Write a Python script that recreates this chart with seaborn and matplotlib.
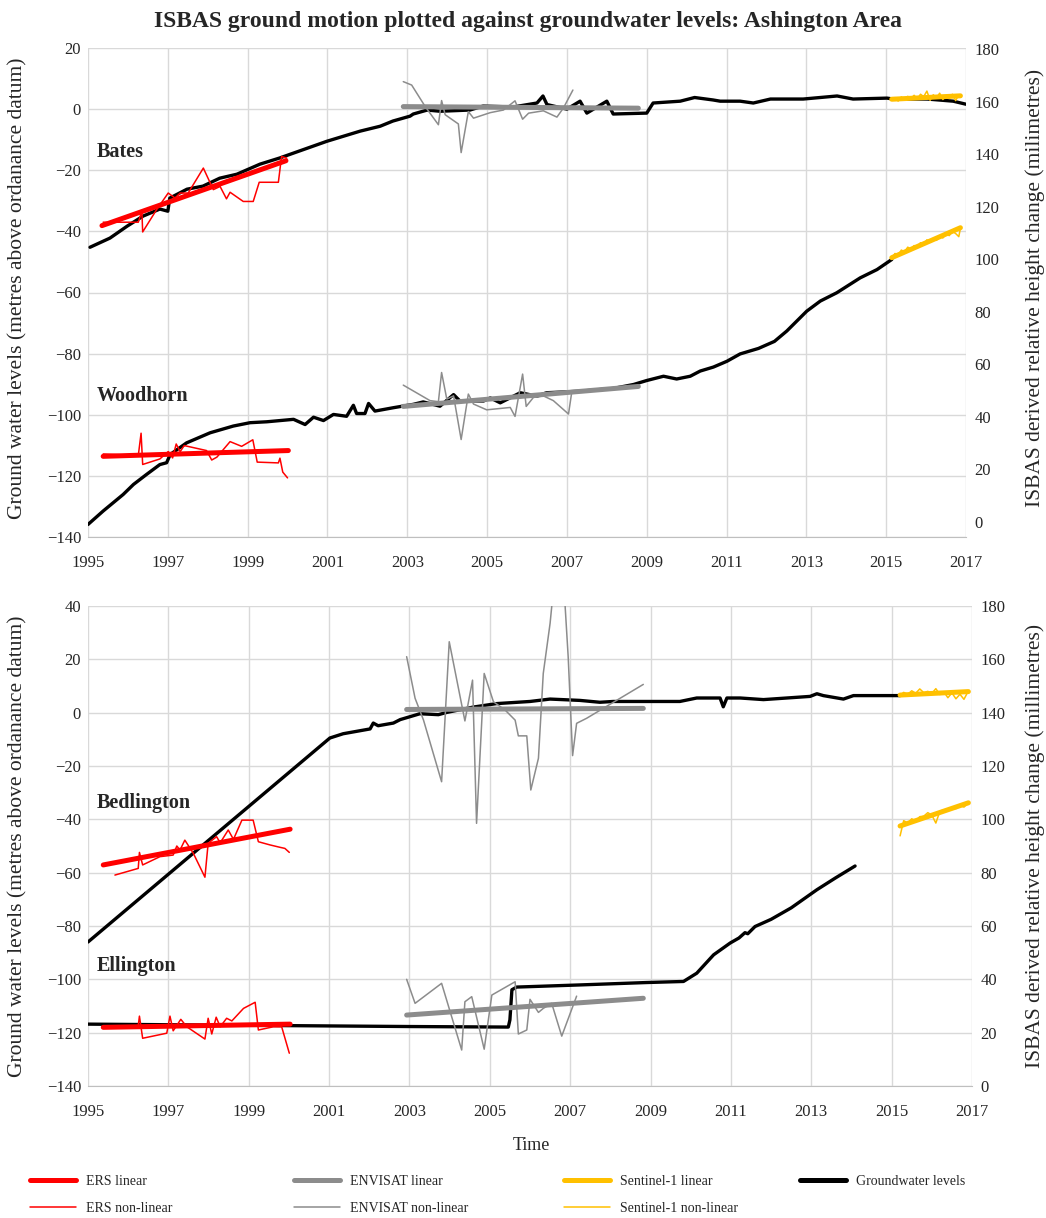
import matplotlib

matplotlib.use("Agg")

import matplotlib.pyplot as plt
from matplotlib.lines import Line2D
import seaborn as sns


OUTPUT_FILE = "out.png"

# ---- Bates (top panel, upper traces) ----
BATES_GW_YEAR = [1995.05, 1995.55, 1995.98, 1996.38, 1996.8, 1997.0, 1997.05, 1997.48, 1997.88,
                 1998.3, 1998.73, 1999.31, 1999.8, 2000.99, 2001.82, 2002.32, 2002.64, 2003.07,
                 2003.15, 2003.5, 2003.82, 2004.57, 2004.9, 2005.65, 2006.25, 2006.4, 2006.5,
                 2007.0, 2007.33, 2007.5, 2008.0, 2008.16, 2009.0, 2009.16, 2009.84, 2010.2,
                 2010.66, 2010.84, 2011.34, 2011.67, 2012.1, 2012.92, 2013.77, 2014.17, 2015.02,
                 2015.18, 2016.03, 2016.68, 2017.0]
BATES_GW_LEVEL = [-45.2, -42.2, -38.3, -35.0, -32.7, -33.4, -29.1, -26.2, -25.2,
                  -22.6, -21.3, -18.0, -16.0, -10.5, -7.2, -5.6, -3.9, -2.3,
                  -1.6, -0.3, -0.7, -0.3, 1.0, 0.7, 2.0, 4.3, 1.5,
                  0.0, 2.6, -1.3, 2.6, -1.6, -1.3, 2.0, 2.6, 3.8,
                  3.0, 2.6, 2.6, 2.0, 3.3, 3.3, 4.3, 3.3, 3.6,
                  3.3, 3.3, 2.6, 1.6]
BATES_ERS_LIN_YEAR = [1995.35, 1999.96]
BATES_ERS_LIN = [112.8, 137.5]
BATES_ERS_YEAR = [1995.38, 1996.26, 1996.35, 1996.37, 1996.72, 1997.01, 1997.18, 1997.31, 1997.51,
                  1997.89, 1998.14, 1998.31, 1998.47, 1998.56, 1998.89, 1999.14, 1999.29, 1999.77,
                  1999.85, 1999.98]
BATES_ERS = [114.1, 114.1, 118.3, 110.4, 118.9, 125.2, 123.3, 125.2, 125.2,
             134.7, 126.5, 127.7, 123.0, 125.5, 122.0, 122.0, 129.3, 129.3,
             139.1, 138.5]
BATES_ENV_LIN_YEAR = [2002.90, 2008.79]
BATES_ENV_LIN = [158.1, 157.5]
BATES_ENV_YEAR = [2002.90, 2003.11, 2003.45, 2003.78, 2003.86, 2003.95, 2004.28, 2004.35, 2004.53,
                  2004.66, 2005.08, 2005.41, 2005.70, 2005.89, 2006.04, 2006.41, 2006.75, 2006.91,
                  2007.15]
BATES_ENV = [167.6, 166.3, 158.1, 151.2, 160.4, 155.0, 151.5, 140.6, 156.2,
             153.7, 155.8, 156.8, 160.3, 153.3, 155.6, 156.5, 154.1, 157.5,
             164.4]
BATES_S1_LIN_YEAR = [2015.14, 2016.86]
BATES_S1_LIN = [160.9, 162.2]
S1_TOP_YEAR = [2015.14, 2015.22, 2015.30, 2015.38, 2015.46, 2015.54, 2015.62, 2015.70, 2015.78,
               2015.86, 2015.94, 2016.02, 2016.10, 2016.18, 2016.26, 2016.34, 2016.42, 2016.50,
               2016.58, 2016.66, 2016.74, 2016.82, 2016.86]
BATES_S1 = [160.6, 161.5, 160.2, 161.8, 160.9, 162.0, 161.2, 162.4, 161.0,
            162.8, 161.9, 164.0, 160.5, 162.6, 161.4, 163.2, 160.8, 162.0,
            161.2, 162.8, 160.4, 162.6, 161.8]

# ---- Woodhorn (top panel, lower traces) ----
WOOD_GW_YEAR = [1995.0, 1995.38, 1995.88, 1996.14, 1996.47, 1996.8, 1996.97, 1997.06, 1997.47,
                1998.06, 1998.64, 1999.06, 1999.48, 2000.15, 2000.44, 2000.65, 2000.90, 2001.15,
                2001.48, 2001.65, 2001.73, 2001.94, 2002.03, 2002.19, 2002.65, 2003.15, 2003.40,
                2003.82, 2004.16, 2004.32, 2004.91, 2005.08, 2005.33, 2005.83, 2006.25, 2006.49,
                2007.33, 2008.16, 2008.67, 2009.00, 2009.42, 2009.75, 2010.09, 2010.34, 2010.67,
                2011.01, 2011.34, 2011.8, 2012.2, 2012.51, 2013.01, 2013.35, 2013.76, 2014.35,
                2014.77, 2015.14]
WOOD_GW_LEVEL = [-135.9, -131.5, -126.1, -122.8, -119.5, -116.3, -115.7, -113.0, -109.2,
                 -105.9, -103.7, -102.6, -102.3, -101.5, -103.2, -100.8, -101.9, -99.9,
                 -100.5, -96.9, -99.6, -99.6, -96.3, -98.8, -97.7, -96.6, -95.8,
                 -97.2, -93.4, -95.5, -95.5, -94.5, -96.1, -92.8, -93.9, -92.8,
                 -92.3, -91.4, -90.1, -88.8, -87.4, -88.3, -87.4, -85.7, -84.4,
                 -82.5, -80.1, -78.3, -76.0, -72.6, -66.1, -62.8, -60.1, -55.2,
                 -52.5, -49.2]
WOOD_ERS_LIN_YEAR = [1995.38, 2000.02]
WOOD_ERS_LIN = [25.0, 27.2]
WOOD_ERS_YEAR = [1995.38, 1996.26, 1996.33, 1996.37, 1996.80, 1997.01, 1997.12, 1997.21, 1997.31,
                 1997.41, 1997.97, 1998.10, 1998.23, 1998.56, 1998.85, 1999.13, 1999.24, 1999.77,
                 1999.81, 1999.88, 2000.0]
WOOD_ERS = [25.9, 25.3, 33.8, 21.9, 24.0, 26.8, 24.4, 29.7, 26.8,
            29.1, 27.2, 23.6, 24.7, 30.6, 28.8, 31.3, 22.8, 22.5,
            24.3, 19.0, 16.8]
WOOD_ENV_LIN_YEAR = [2002.90, 2008.79]
WOOD_ENV_LIN = [44.0, 51.6]
WOOD_ENV_YEAR = [2002.90, 2003.57, 2003.78, 2003.86, 2003.99, 2004.16, 2004.35, 2004.53, 2004.66,
                 2004.99, 2005.58, 2005.70, 2005.89, 2005.98, 2006.16, 2006.41, 2006.66, 2007.04,
                 2007.12]
WOOD_ENV = [52.1, 46.2, 45.8, 56.9, 46.8, 48.0, 31.4, 48.7, 44.9,
            42.7, 43.6, 40.2, 56.3, 44.0, 47.4, 48.0, 46.2, 41.1,
            49.3]
WOOD_S1_LIN_YEAR = [2015.14, 2016.86]
WOOD_S1_LIN = [100.6, 112.0]
WOOD_S1 = [100.4, 102.2, 101.6, 103.5, 102.8, 104.6, 103.9, 105.2, 104.8,
           106.3, 105.5, 107.4, 106.6, 107.9, 107.2, 108.8, 108.1, 109.6,
           109.0, 110.6, 109.8, 108.6, 111.8]

# ---- Bedlington (bottom panel, upper traces) ----
BED_GW_YEAR = [1995.0, 2001.02, 2001.35, 2002.02, 2002.1, 2002.22, 2002.6, 2002.77, 2003.26,
               2003.72, 2003.93, 2004.59, 2005.17, 2006.0, 2006.5, 2007.24, 2007.74, 2008.07,
               2008.9, 2009.73, 2010.15, 2010.73, 2010.81, 2010.9, 2011.23, 2011.81, 2012.39,
               2012.97, 2013.14, 2013.30, 2013.80, 2014.05, 2015.21]
BED_GW_LEVEL = [-86.0, -9.5, -7.9, -6.1, -3.9, -4.9, -3.9, -2.6, -0.4,
                -0.75, 0.1, 2.1, 3.4, 4.2, 5.1, 4.6, 3.9, 4.2,
                4.2, 4.2, 5.5, 5.5, 2.2, 5.5, 5.5, 4.9, 5.5,
                6.1, 7.1, 6.4, 5.1, 6.4, 6.4]
BED_ERS_LIN_YEAR = [1995.38, 2000.03]
BED_ERS_LIN = [82.9, 96.3]
BED_ERS_YEAR = [1995.67, 1996.25, 1996.28, 1996.36, 1996.79, 1997.12, 1997.21, 1997.29, 1997.41,
                1997.62, 1997.91, 1997.99, 1998.20, 1998.29, 1998.49, 1998.62, 1998.83, 1999.11,
                1999.24, 1999.53, 1999.78, 1999.90, 2000.01]
BED_ERS = [79.1, 81.6, 87.6, 82.9, 86.0, 86.6, 90.0, 88.5, 92.2,
           87.3, 78.3, 91.0, 93.5, 91.2, 96.0, 92.5, 99.7, 99.7,
           91.6, 90.4, 89.5, 89.1, 87.6]
BED_ENV_LIN_YEAR = [2002.93, 2008.82]
BED_ENV_LIN = [141.2, 141.6]
BED_ENV_YEAR = [2002.93, 2003.14, 2003.35, 2003.80, 2003.99, 2004.38, 2004.57, 2004.67, 2004.86,
                2005.09, 2005.38, 2005.63, 2005.71, 2005.92, 2006.02, 2006.21, 2006.33, 2006.50,
                2006.62, 2006.72, 2006.87, 2006.95, 2007.06, 2007.16, 2007.41, 2008.82]
BED_ENV = [161.0, 145.4, 137.2, 114.1, 166.6, 136.9, 152.2, 98.5, 154.7,
           144.1, 141.0, 137.2, 131.3, 131.3, 111.0, 122.9, 154.7, 173.5,
           192.0, 194.0, 181.0, 161.0, 123.9, 136.0, 137.9, 150.6]
BED_S1_LIN_YEAR = [2015.21, 2016.91]
BED_S1_LIN = [146.6, 147.9]
S1_BOT_YEAR = [2015.21, 2015.30, 2015.40, 2015.50, 2015.60, 2015.70, 2015.80, 2015.90, 2016.00,
               2016.10, 2016.20, 2016.30, 2016.40, 2016.50, 2016.60, 2016.70, 2016.80, 2016.91]
BED_S1 = [146.5, 147.6, 146.9, 148.2, 147.3, 148.9, 147.5, 148.0, 147.2,
          149.0, 146.8, 147.8, 145.6, 147.4, 145.2, 146.9, 145.0, 148.2]

# ---- Ellington (bottom panel, lower traces) ----
ELL_GW_YEAR = [1995.0, 2003.0, 2005.46, 2005.5, 2005.55, 2005.67, 2007.24, 2008.9, 2009.82,
               2010.15, 2010.57, 2010.98, 2011.2, 2011.35, 2011.42, 2011.6, 2012.0, 2012.5,
               2013.14, 2013.6, 2014.09]
ELL_GW_LEVEL = [-116.8, -117.7, -117.9, -115.2, -103.9, -102.9, -102.1, -101.2, -100.8,
                -97.7, -90.8, -86.4, -84.5, -82.5, -82.9, -80.2, -77.5, -73.2,
                -66.4, -62.0, -57.5]
ELL_ERS_LIN_YEAR = [1995.38, 2000.03]
ELL_ERS_LIN = [22.0, 23.2]
ELL_ERS_YEAR = [1995.38, 1996.25, 1996.28, 1996.36, 1996.96, 1997.04, 1997.12, 1997.31, 1997.46,
                1997.91, 1997.99, 1998.08, 1998.19, 1998.29, 1998.45, 1998.58, 1998.87, 1999.16,
                1999.24, 1999.61, 1999.82, 2000.01]
ELL_ERS = [22.2, 22.6, 26.2, 17.9, 19.8, 26.2, 20.7, 25.0, 22.2,
           17.6, 25.4, 19.5, 25.8, 22.2, 25.4, 24.4, 29.1, 31.4,
           21.0, 22.2, 22.2, 12.3]
ELL_ENV_LIN_YEAR = [2002.93, 2008.82]
ELL_ENV_LIN = [26.6, 32.9]
ELL_ENV_YEAR = [2002.93, 2003.14, 2003.80, 2004.30, 2004.38, 2004.55, 2004.86, 2005.05, 2005.63,
                2005.71, 2005.92, 2006.00, 2006.21, 2006.33, 2006.54, 2006.79, 2007.16]
ELL_ENV = [40.0, 31.0, 38.5, 13.5, 31.6, 33.5, 13.8, 34.1, 39.1,
           19.5, 21.0, 32.5, 27.6, 29.1, 31.0, 18.7, 33.7]
ELL_S1_LIN_YEAR = [2015.21, 2016.91]
ELL_S1_LIN = [97.5, 106.2]
ELL_S1 = [93.8, 99.5, 98.6, 100.2, 99.4, 101.0, 101.2, 102.5, 101.6,
          98.6, 103.0, 103.6, 103.2, 104.5, 104.0, 105.2, 104.6, 106.2]

YEAR_TICKS = list(range(1995, 2018, 2))

RED = "#FF0000"
GREY = "#8C8C8C"
GOLD = "#FFC000"
GRID = "#D9D9D9"
LIN_W = 3.6
NL_W = 1.1
GW_W = 2.4


def style_axes(ax, ax2, ylim, yticks, ylim2):
    ax.set_xlim(1995, 2017)
    ax.set_xticks(YEAR_TICKS)
    ax.set_ylim(*ylim)
    ax.set_yticks(yticks)
    ax.grid(True, color=GRID, linewidth=1.0)
    ax.set_axisbelow(True)
    ax.tick_params(axis="both", length=0, labelsize=12)
    ax.tick_params(axis="x", pad=13)
    ax.tick_params(axis="y", pad=5)
    for side in ("top", "left", "right"):
        ax.spines[side].set_visible(False)
    ax.spines["bottom"].set_color("#BFBFBF")
    ax.set_xlabel("")
    ax.set_ylabel("")

    ax2.set_ylim(*ylim2)
    ax2.set_yticks(range(0, 181, 20))
    ax2.grid(False)
    ax2.tick_params(axis="y", length=0, labelsize=12, pad=6)
    for side in ("top", "left", "right", "bottom"):
        ax2.spines[side].set_visible(False)
    ax2.set_ylabel("")


def line(ax, x, y, color, lw):
    sns.lineplot(x=x, y=y, ax=ax, color=color, linewidth=lw,
                 estimator=None, sort=False, legend=False)


def plot_site(ax, ax2, gw, ers, ers_lin, env, env_lin, s1, s1_lin):
    line(ax, gw[0], gw[1], "black", GW_W)
    line(ax2, ers_lin[0], ers_lin[1], RED, LIN_W)
    line(ax2, ers[0], ers[1], RED, NL_W)
    line(ax2, env_lin[0], env_lin[1], GREY, LIN_W)
    line(ax2, env[0], env[1], GREY, NL_W)
    line(ax2, s1_lin[0], s1_lin[1], GOLD, LIN_W)
    line(ax2, s1[0], s1[1], GOLD, NL_W)


def main():
    sns.set_style("white")
    plt.rcParams["font.family"] = ["Liberation Serif", "DejaVu Serif"]

    fig = plt.figure(figsize=(10.46, 12.18), dpi=100)
    ax_top = fig.add_axes([88 / 1046, 681 / 1218, 878 / 1046, 489 / 1218])
    ax_top2 = ax_top.twinx()
    ax_bot = fig.add_axes([88 / 1046, 132 / 1218, 884 / 1046, 480 / 1218])
    ax_bot2 = ax_bot.twinx()

    plot_site(ax_top, ax_top2, (BATES_GW_YEAR, BATES_GW_LEVEL),
              (BATES_ERS_YEAR, BATES_ERS), (BATES_ERS_LIN_YEAR, BATES_ERS_LIN),
              (BATES_ENV_YEAR, BATES_ENV), (BATES_ENV_LIN_YEAR, BATES_ENV_LIN),
              (S1_TOP_YEAR, BATES_S1), (BATES_S1_LIN_YEAR, BATES_S1_LIN))
    plot_site(ax_top, ax_top2, (WOOD_GW_YEAR, WOOD_GW_LEVEL),
              (WOOD_ERS_YEAR, WOOD_ERS), (WOOD_ERS_LIN_YEAR, WOOD_ERS_LIN),
              (WOOD_ENV_YEAR, WOOD_ENV), (WOOD_ENV_LIN_YEAR, WOOD_ENV_LIN),
              (S1_TOP_YEAR, WOOD_S1), (WOOD_S1_LIN_YEAR, WOOD_S1_LIN))
    plot_site(ax_bot, ax_bot2, (BED_GW_YEAR, BED_GW_LEVEL),
              (BED_ERS_YEAR, BED_ERS), (BED_ERS_LIN_YEAR, BED_ERS_LIN),
              (BED_ENV_YEAR, BED_ENV), (BED_ENV_LIN_YEAR, BED_ENV_LIN),
              (S1_BOT_YEAR, BED_S1), (BED_S1_LIN_YEAR, BED_S1_LIN))
    plot_site(ax_bot, ax_bot2, (ELL_GW_YEAR, ELL_GW_LEVEL),
              (ELL_ERS_YEAR, ELL_ERS), (ELL_ERS_LIN_YEAR, ELL_ERS_LIN),
              (ELL_ENV_YEAR, ELL_ENV), (ELL_ENV_LIN_YEAR, ELL_ENV_LIN),
              (S1_BOT_YEAR, ELL_S1), (ELL_S1_LIN_YEAR, ELL_S1_LIN))

    style_axes(ax_top, ax_top2, (-140, 20), range(-140, 21, 20), (-5.7, 180.4))
    style_axes(ax_bot, ax_bot2, (-140, 40), range(-140, 41, 20), (0, 180))

    # site names
    for ax, name, y in ((ax_top, "Bates", -14), (ax_top, "Woodhorn", -94),
                        (ax_bot, "Bedlington", -34), (ax_bot, "Ellington", -95)):
        ax.text(1995.22, y, name, fontsize=14.5, fontweight="bold", va="center", ha="left")

    fig.text(0.505, 1 - 21 / 1218,
             "ISBAS ground motion plotted against groundwater levels: Ashington Area",
             ha="center", va="center", fontsize=17, fontweight="bold")

    left_label = "Ground water levels (metres above ordanance datum)"
    fig.text(18 / 1046, 1 - 288 / 1218, left_label, rotation=90,
             ha="center", va="center", fontsize=15.5)
    fig.text(18 / 1046, 1 - 846 / 1218, left_label, rotation=90,
             ha="center", va="center", fontsize=15.5)
    fig.text(1035 / 1046, 1 - 288 / 1218,
             "ISBAS derived relative height change (milimetres)", rotation=90,
             ha="center", va="center", fontsize=15.5)
    fig.text(1035 / 1046, 1 - 846 / 1218,
             "ISBAS derived relative height change (millimetres)", rotation=90,
             ha="center", va="center", fontsize=15.5)
    fig.text(531 / 1046, 1 - 1145 / 1218, "Time", ha="center", va="center", fontsize=13)

    # legend: one column per satellite, placed like the original
    legend_cols = [
        (30, [(RED, LIN_W, "ERS linear"), (RED, NL_W, "ERS non-linear")]),
        (294, [(GREY, LIN_W, "ENVISAT linear"), (GREY, NL_W, "ENVISAT non-linear")]),
        (564, [(GOLD, LIN_W, "Sentinel-1 linear"), (GOLD, NL_W, "Sentinel-1 non-linear")]),
        (800, [("black", LIN_W, "Groundwater levels")]),
    ]
    for x0, entries in legend_cols:
        handles = [Line2D([], [], color=c, linewidth=w) for c, w, _ in entries]
        labels = [lab for _, _, lab in entries]
        fig.legend(handles, labels, loc="upper left",
                   bbox_to_anchor=(x0 / 1046, 1 - 1175 / 1218),
                   frameon=False, fontsize=10, handlelength=3.3, handletextpad=0.75,
                   labelspacing=1.0, borderaxespad=0, borderpad=0)

    fig.savefig(OUTPUT_FILE, dpi=100)
    plt.close(fig)


if __name__ == "__main__":
    main()
